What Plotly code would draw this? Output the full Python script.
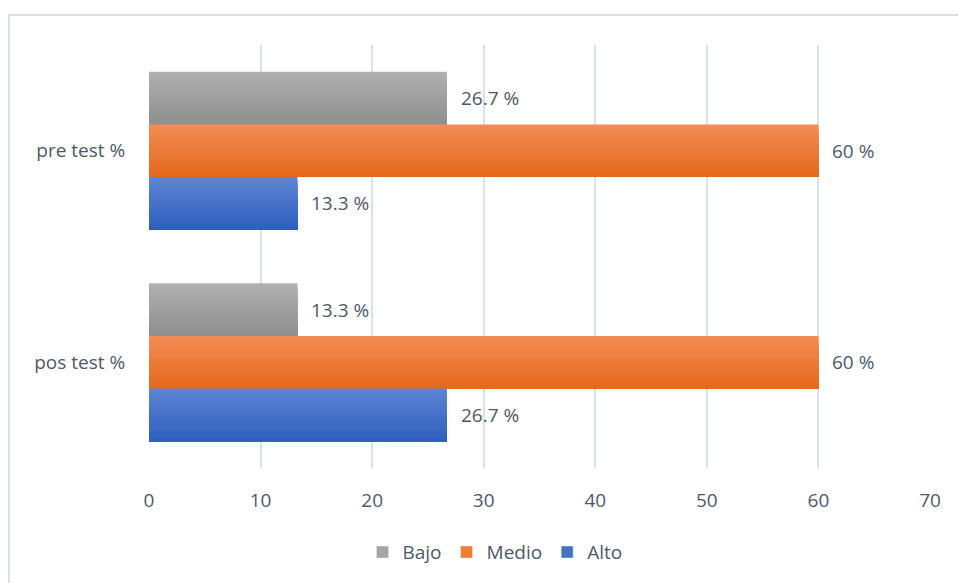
import plotly.graph_objects as go

# Data
categories = ["pre test %", "pos test %"]
series_names = ["Bajo", "Medio", "Alto"]
bajo = [26.7, 13.3]
medio = [60, 60]
alto = [13.3, 26.7]
x_ticks = [0, 10, 20, 30, 40, 50, 60, 70]

series_values = [bajo, medio, alto]
# vertical gradient (top, bottom) for each series
gradients = [
    ((0xb1, 0xb1, 0xb1), (0x8e, 0x8e, 0x8e)),
    ((0xf3, 0x8d, 0x55), (0xe5, 0x68, 0x1a)),
    ((0x5d, 0x85, 0xd3), (0x2e, 0x5e, 0xbd)),
]
legend_colors = ["#a5a5a5", "#ed7d31", "#4472c4"]
text_color = "#4d596a"
font_family = "Open Sans, Noto Sans, sans-serif"
font_size = 19

# category positions on a numeric axis: first category on top
y_pos = [len(categories) - 1 - i for i in range(len(categories))]
group_half = 0.3735
bar_h = 2 * group_half / len(series_names)
n_slices = 20


def mix(c0, c1, t):
    return "rgb({},{},{})".format(*[round(a + (b - a) * t) for a, b in zip(c0, c1)])


fig = go.Figure()
for k, (name, vals) in enumerate(zip(series_names, series_values)):
    top = group_half - k * bar_h
    bottom = top - bar_h
    step = bar_h / n_slices
    # each layer runs from its own top edge down to the bar bottom,
    # later (darker) layers are painted over earlier ones
    for i in range(n_slices):
        t = (i + 0.5) / n_slices
        layer_top = top - i * step
        fig.add_trace(go.Bar(
            x=vals, y=y_pos, orientation="h",
            offset=bottom,
            width=layer_top - bottom,
            marker=dict(color=mix(*gradients[k], t), line=dict(width=0)),
            name=name, legendgroup=name, showlegend=False,
            hoverinfo="skip",
        ))
    # legend entry
    fig.add_trace(go.Bar(
        x=[None], y=[None], orientation="h", name=name, legendgroup=name,
        marker=dict(color=legend_colors[k]), showlegend=True,
    ))
    for v, yp in zip(vals, y_pos):
        fig.add_annotation(
            x=v, y=yp + top - bar_h / 2, xref="x", yref="y",
            text=f"{v:g} %", showarrow=False, xanchor="left", yanchor="middle",
            xshift=12, font=dict(size=font_size, color=text_color, family=font_family),
        )

# outer chart border
fig.add_shape(type="rect", xref="paper", yref="paper",
              x0=(9 - 149) / 781, x1=(966 - 149) / 781,
              y0=(468 - 592) / 423, y1=(468 - 15) / 423,
              line=dict(color="#dadee5", width=2), fillcolor="rgba(0,0,0,0)", layer="below")

fig.update_layout(
    width=958, height=583,
    margin=dict(l=149, r=28, t=45, b=115),
    paper_bgcolor="white", plot_bgcolor="white",
    barmode="overlay",
    font=dict(family=font_family, size=font_size, color=text_color),
    legend=dict(orientation="h", x=0.443, xanchor="center", y=-0.199, yanchor="middle",
                font=dict(size=font_size, color=text_color), traceorder="normal",
                itemwidth=30),
    xaxis=dict(range=[0, 70], tickvals=x_ticks, showgrid=True, gridcolor="#dce1e9",
               gridwidth=2, zeroline=False, showline=False, ticks="outside",
               ticklen=15, tickcolor="rgba(0,0,0,0)", fixedrange=True),
    yaxis=dict(range=[-0.5, len(categories) - 0.5], tickvals=y_pos, ticktext=categories,
               showgrid=False, zeroline=False, showline=False, ticks="outside",
               ticklen=19, tickcolor="rgba(0,0,0,0)", fixedrange=True),
)

fig.write_html("out.html")
